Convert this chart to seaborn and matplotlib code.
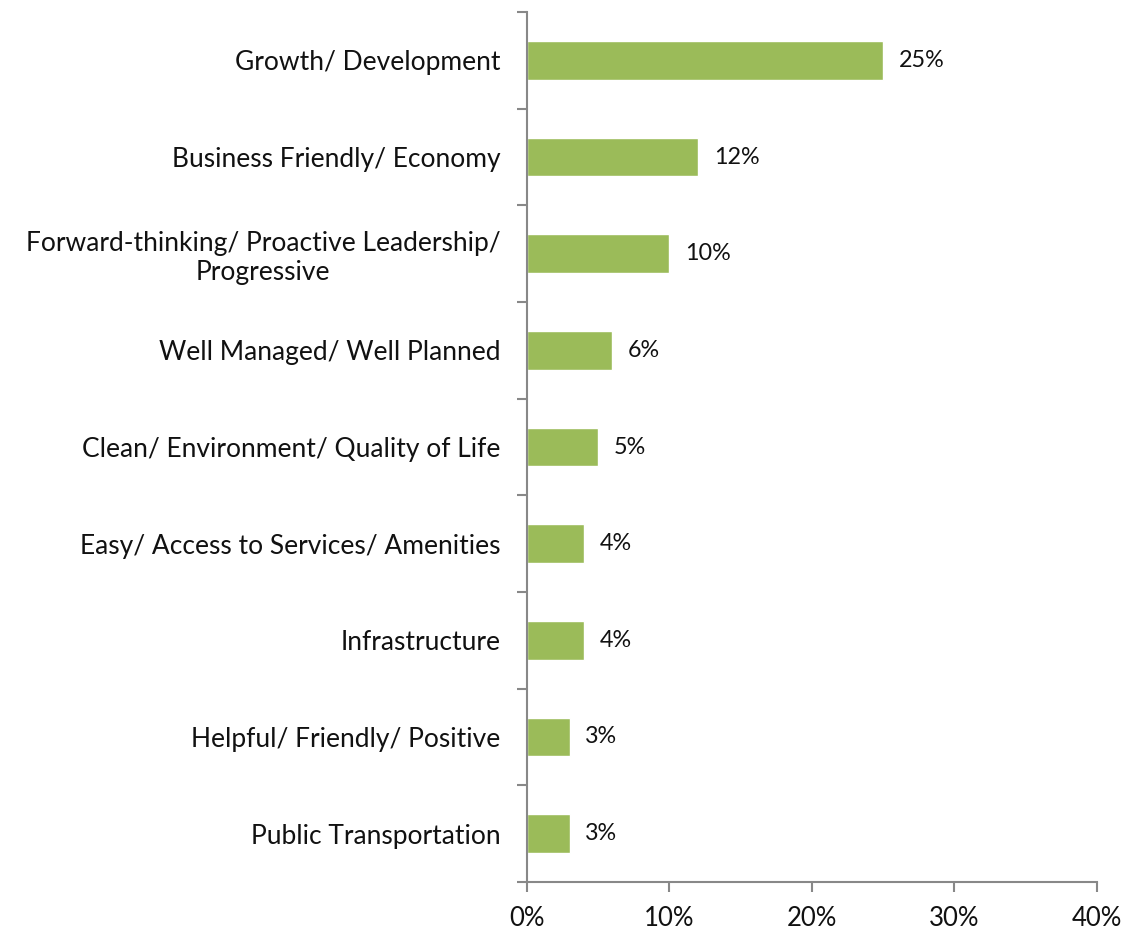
import numpy as np
import pandas as pd
import matplotlib
matplotlib.use("Agg")
import matplotlib.pyplot as plt
import seaborn as sns

categories = [
    "Growth/ Development",
    "Business Friendly/ Economy",
    "Forward-thinking/ Proactive Leadership/\nProgressive",
    "Well Managed/ Well Planned",
    "Clean/ Environment/ Quality of Life",
    "Easy/ Access to Services/ Amenities",
    "Infrastructure",
    "Helpful/ Friendly/ Positive",
    "Public Transportation",
]
values = [25, 12, 10, 6, 5, 4, 4, 3, 3]
xticks = [0, 10, 20, 30, 40]

df = pd.DataFrame({"category": categories, "pct": values})

sns.set_style("white")
plt.rcParams["font.family"] = ["Lato", "DejaVu Sans"]

fig = plt.figure(figsize=(11.37, 9.33), dpi=100)
ax = fig.add_axes([0.4635, 0.0547, 0.5013, 0.9323])

sns.barplot(data=df, x="pct", y="category", color="#9BBB59", width=0.4,
            saturation=1, ax=ax)

# value labels
for i, v in enumerate(values):
    ax.text(v + 1.1, i, f"{v}%", va="center", ha="left", fontsize=16.8, color="#111111")

ax.set_xlim(0, 40)
ax.set_ylim(len(categories) - 0.5, -0.5)
ax.set_xticks(xticks)
ax.set_xticklabels([f"{t}%" for t in xticks], fontsize=18.5, color="#111111")
ax.set_yticks(range(len(categories)))
ax.set_yticklabels(categories, fontsize=19, color="#111111", ha="right",
                   multialignment="center")
ax.tick_params(left=True, bottom=True, which="both")
ax.tick_params(axis="y", which="major", length=0, pad=19)
ax.set_yticks(np.arange(-0.5, len(categories), 1), minor=True)
ax.tick_params(axis="y", which="minor", length=7, width=1.5, color="#888888")
ax.tick_params(axis="x", which="major", length=7, width=1.5, color="#888888",
               direction="out", pad=10)
ax.set_xlabel("")
ax.set_ylabel("")

sns.despine(ax=ax)
for s in ["left", "bottom"]:
    ax.spines[s].set_color("#888888")
    ax.spines[s].set_linewidth(1.5)

fig.savefig("out.png", dpi=100)
